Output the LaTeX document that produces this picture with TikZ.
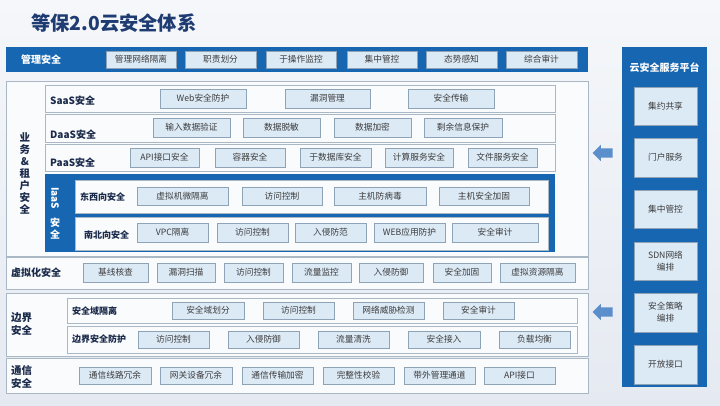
\documentclass[tikz,border=0pt]{standalone}
\usepackage{fontspec}
\setmainfont{Noto Sans CJK SC}
\usetikzlibrary{shapes.arrows}
\definecolor{dblue}{HTML}{1666B2}
\definecolor{titlec}{HTML}{1F3C72}
\definecolor{boxfill}{HTML}{DCEAF6}
\definecolor{boxdraw}{HTML}{8FA3B6}
\definecolor{rowdraw}{HTML}{AAB8C6}
\definecolor{rowfill}{HTML}{FAFBFD}
\definecolor{txt}{HTML}{3C3C3C}
\definecolor{labc}{HTML}{1A2A4A}
\definecolor{arrowc}{HTML}{5B8FCC}
\definecolor{bgtop}{HTML}{F5F7FA}
\definecolor{bgbot}{HTML}{E5E9F1}
\newcommand{\rbx}[7]{\node[#1,minimum width={(#5-#3)*1pt},minimum height={(#6-#4)*1pt}] (#2) at ({(#3+#5)/2},{(#4+#6)/2}) {#7};}
\tikzset{
  sbox/.style={draw=boxdraw,fill=boxfill,line width=0.6pt,inner sep=0pt,text=txt,font=\fontsize{8.7}{10}\selectfont},
  pbox/.style={draw=boxdraw,fill=boxfill,line width=0.6pt,inner sep=0pt,text=txt,align=center,font=\fontsize{8.7}{12}\selectfont},
  rowbox/.style={draw=rowdraw,fill=rowfill,line width=0.8pt,inner sep=0pt},
  dbar/.style={fill=dblue,inner sep=0pt},
  lab/.style={text=labc,font=\bfseries\fontsize{10}{12}\selectfont,inner sep=0pt},
  slab/.style={text=labc,font=\bfseries\fontsize{9}{11}\selectfont,inner sep=0pt},
  wlab/.style={text=white,font=\bfseries\fontsize{10}{12}\selectfont,inner sep=0pt},
  barrow/.style={single arrow,shape border rotate=180,fill=arrowc,minimum height=20pt,inner xsep=0pt,inner ysep=4.5pt,single arrow head extend=3.5pt}
}
\begin{document}
\begin{tikzpicture}[x=1pt,y=-1pt]
\useasboundingbox (0,0) rectangle (720,405);
\shade[top color=bgtop,bottom color=bgbot] (0,0) rectangle (720,405);
% title
\node[text=titlec,font=\bfseries\fontsize{19.3}{22}\selectfont,anchor=west,inner sep=0pt] (title) at (31,23) {等保2.0云安全体系};
% management bar
\rbx{dbar}{mbar}{6}{47}{588}{72}{}
\node[wlab] (mlab) at (41,59.5) {管理安全};
\rbx{sbox}{m1}{106}{51}{176}{68}{管理网络隔离}
\rbx{sbox}{m2}{185}{51}{256}{68}{职责划分}
\rbx{sbox}{m3}{266}{51}{336}{68}{于操作监控}
\rbx{sbox}{m4}{347}{51}{417}{68}{集中管控}
\rbx{sbox}{m5}{426}{51}{497}{68}{态势感知}
\rbx{sbox}{m6}{506}{51}{577}{68}{综合审计}
% business & tenant
\rbx{rowbox}{biz}{6}{81}{588}{256}{}
\node[text=labc,font=\bfseries\fontsize{10.5}{12}\selectfont,align=center,inner sep=0pt] (bizlab) at (25,173) {业\\务\\\&\\租\\户\\安\\全};
\rbx{rowbox}{saas}{45}{85}{555}{112}{}
\rbx{rowbox}{daas}{45}{114}{555}{142}{}
\rbx{rowbox}{paas}{45}{144}{555}{171}{}
\node[lab,anchor=west] (saasl) at (50,101) {SaaS安全};
\node[lab,anchor=west] (daasl) at (50,135) {DaaS安全};
\node[lab,anchor=west] (paasl) at (50,163) {PaaS安全};
\rbx{sbox}{s1}{160}{89}{246}{108}{Web安全防护}
\rbx{sbox}{s2}{285}{89}{370}{108}{漏洞管理}
\rbx{sbox}{s3}{408}{89}{494}{108}{安全传输}
\rbx{sbox}{d1}{153}{118}{230}{137}{输入数据验证}
\rbx{sbox}{d2}{243}{118}{320}{137}{数据脱敏}
\rbx{sbox}{d3}{334}{118}{411}{137}{数据加密}
\rbx{sbox}{d4}{424}{118}{502}{137}{剩余信息保护}
\rbx{sbox}{p1}{130}{148}{199}{167}{API接口安全}
\rbx{sbox}{p2}{215}{148}{285}{167}{容器安全}
\rbx{sbox}{p3}{300}{148}{371}{167}{于数据库安全}
\rbx{sbox}{p4}{385}{148}{453}{167}{计算服务安全}
\rbx{sbox}{p5}{468}{148}{537}{167}{文件服务安全}
% IaaS
\rbx{dbar}{iaas}{45}{174}{555}{252}{}
\node[wlab,rotate=-90] (iaasl) at (55,198) {IaaS};
\node[text=white,font=\bfseries\fontsize{10}{12}\selectfont,align=center,inner sep=0pt] (iaasl2) at (55,229) {安\\全};
\rbx{rowbox}{ew}{75}{180}{548}{213}{}
\rbx{rowbox}{ns}{75}{217}{548}{250}{}
\node[slab,anchor=west] (ewl) at (80,197) {东西向安全};
\node[slab,anchor=west] (nsl) at (84,235) {南北向安全};
\rbx{sbox}{e1}{137}{187}{228}{205}{虚拟机微隔离}
\rbx{sbox}{e2}{242}{187}{322}{205}{访问控制}
\rbx{sbox}{e3}{334}{187}{426}{205}{主机防病毒}
\rbx{sbox}{e4}{439}{187}{529}{205}{主机安全加固}
\rbx{sbox}{n1}{137}{223}{208}{242}{VPC隔离}
\rbx{sbox}{n2}{217}{223}{288}{242}{访问控制}
\rbx{sbox}{n3}{295}{223}{366}{242}{入侵防范}
\rbx{sbox}{n4}{374}{223}{445}{242}{WEB应用防护}
\rbx{sbox}{n5}{452}{223}{538}{242}{安全审计}
% virtualization
\rbx{rowbox}{virt}{6}{257}{588}{289}{}
\node[lab,anchor=west] (virtl) at (11,273) {虚拟化安全};
\rbx{sbox}{v1}{83}{263}{148}{282}{基线核查}
\rbx{sbox}{v2}{157}{263}{215}{282}{漏洞扫描}
\rbx{sbox}{v3}{224}{263}{283}{282}{访问控制}
\rbx{sbox}{v4}{292}{263}{351}{282}{流量监控}
\rbx{sbox}{v5}{359}{263}{423}{282}{入侵防御}
\rbx{sbox}{v6}{433}{263}{491}{282}{安全加固}
\rbx{sbox}{v7}{500}{263}{575}{282}{虚拟资源隔离}
% border
\rbx{rowbox}{bord}{6}{293}{588}{356}{}
\node[text=labc,font=\bfseries\fontsize{10.5}{13}\selectfont,align=left,anchor=west,inner sep=0pt] (bordl) at (11,324) {边界\\安全};
\rbx{rowbox}{b1row}{67}{298}{577}{323}{}
\rbx{rowbox}{b2row}{67}{326}{577}{353}{}
\node[slab,anchor=west] (b1l) at (72,311) {安全域隔离};
\node[slab,anchor=west] (b2l) at (72,339) {边界安全防护};
\rbx{sbox}{ba1}{172}{302}{244}{319}{安全域划分}
\rbx{sbox}{ba2}{263}{302}{334}{319}{访问控制}
\rbx{sbox}{ba3}{353}{302}{424}{319}{网络威胁检测}
\rbx{sbox}{ba4}{443}{302}{514}{319}{安全审计}
\rbx{sbox}{bb1}{138}{331}{209}{348}{访问控制}
\rbx{sbox}{bb2}{228}{331}{299}{348}{入侵防御}
\rbx{sbox}{bb3}{318}{331}{389}{348}{流量清洗}
\rbx{sbox}{bb4}{408}{331}{480}{348}{安全接入}
\rbx{sbox}{bb5}{499}{331}{570}{348}{负载均衡}
% communication
\rbx{rowbox}{comm}{6}{358}{588}{393}{}
\node[text=labc,font=\bfseries\fontsize{10.5}{13}\selectfont,align=left,anchor=west,inner sep=0pt] (comml) at (11,377) {通信\\安全};
\rbx{sbox}{c1}{79}{367}{151}{384}{通信线路冗余}
\rbx{sbox}{c2}{160}{367}{232}{384}{网关设备冗余}
\rbx{sbox}{c3}{242}{367}{313}{384}{通信传输加密}
\rbx{sbox}{c4}{323}{367}{394}{384}{完整性校验}
\rbx{sbox}{c5}{404}{367}{475}{384}{带外管理通道}
\rbx{sbox}{c6}{484}{367}{555}{384}{API接口}
% right platform
\rbx{dbar}{plat}{622}{47}{707}{387}{}
\node[wlab] (platl) at (664.5,68) {云安全服务平台};
\rbx{pbox}{r1}{634}{87}{697}{125}{集约共享}
\rbx{pbox}{r2}{634}{138}{697}{177}{门户服务}
\rbx{pbox}{r3}{634}{190}{697}{228}{集中管控}
\rbx{pbox}{r4}{634}{242}{697}{280}{SDN网络\\编排}
\rbx{pbox}{r5}{634}{293}{697}{332}{安全策略\\编排}
\rbx{pbox}{r6}{634}{345}{697}{384}{开放接口}
% arrows
\node[barrow] (arr1) at (605,153) {};
\node[barrow] (arr2) at (605,312) {};
\end{tikzpicture}
\end{document}
